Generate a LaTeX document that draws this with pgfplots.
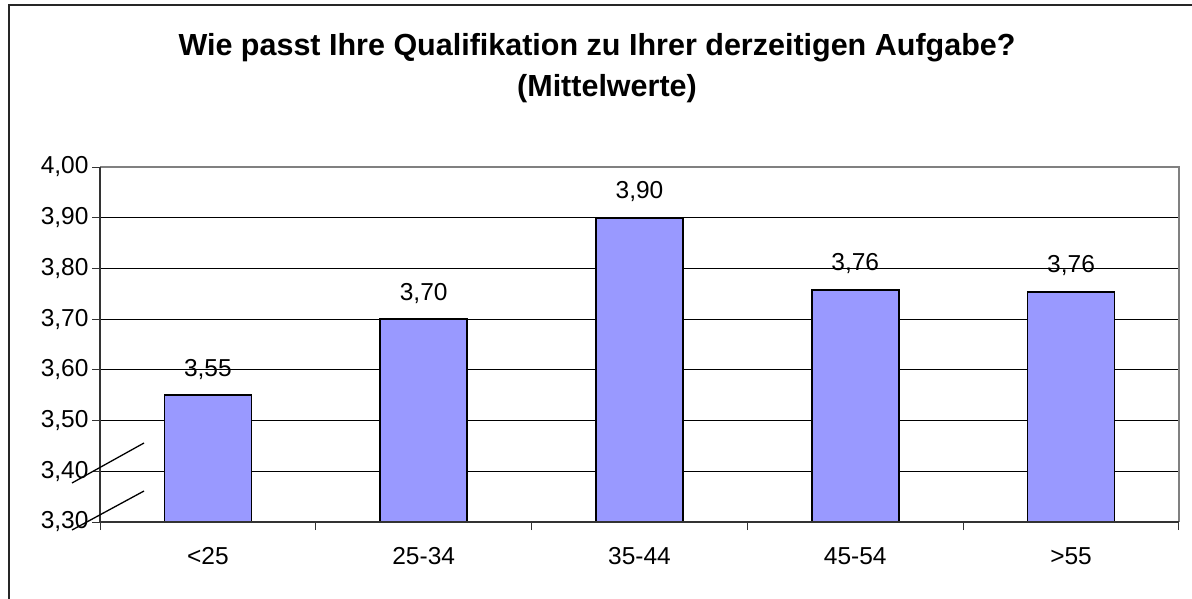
\documentclass[border=0pt]{standalone}
\usepackage{pgfplots}
\pgfplotsset{compat=1.18}
\usepackage{fontspec}
\setmainfont{Liberation Sans}
\definecolor{barblue}{HTML}{9999FF}
\begin{document}
\begin{tikzpicture}[x=1pt,y=1pt]
\useasboundingbox (0,0) rectangle (1192,598);
\draw[line width=2pt, black!85] (9,-5) -- (9,593) -- (1200,593);
\node[anchor=base, font=\bfseries\fontsize{30.5}{36}\selectfont, inner sep=0pt] at (597,542) {Wie passt Ihre Qualifikation zu Ihrer derzeitigen Aufgabe?};
\node[anchor=base, font=\bfseries\fontsize{30.5}{36}\selectfont, inner sep=0pt] at (607,501) {(Mittelwerte)};
\begin{axis}[
  at={(100pt,76pt)}, anchor=south west,
  scale only axis, width=1079pt, height=355pt,
  xmin=-0.5, xmax=4.5, ymin=3.3, ymax=4.0,
  clip mode=individual,
  axis line style={draw=none},
  xtick pos=bottom, ytick pos=left,
  /pgf/number format/assume math mode=true,
  ytick={3.3,3.4,3.5,3.6,3.7,3.8,3.9,4.0},
  yticklabel style={font=\fontsize{24.5}{28}\selectfont, /pgf/number format/.cd, fixed, fixed zerofill, precision=2, use comma},
  xtick={0,1,2,3,4},
  xticklabels={<25,25-34,35-44,45-54,>55},
  xticklabel style={font=\fontsize{24.5}{28}\selectfont, yshift=-14pt},
  xtick style={draw=none},
  extra x ticks={-0.5,0.5,1.5,2.5,3.5,4.5},
  extra x tick labels={},
  extra x tick style={grid=none, every x tick/.append style={draw=black!80, line width=1pt}},
  ytick style={draw=black!80, line width=1pt},
  tick align=outside, major tick length=8pt,
  ymajorgrids, major grid style={black, line width=1pt},
  nodes near coords, point meta=explicit symbolic,
  every node near coord/.append style={anchor=base, yshift=19pt, font=\fontsize{24.5}{28}\selectfont, text=black},
]
\addplot[ybar, bar width=87pt, fill=barblue, draw=black, line width=1.6pt]
  coordinates {(0,3.55) [3,55] (1,3.70) [3,70] (2,3.90) [3,90] (3,3.758) [3,76] (4,3.754) [3,76]};
\draw[gray, line width=1.2pt] (rel axis cs:0,1) -- (rel axis cs:1,1) -- (rel axis cs:1,0);
\draw[black!80, line width=1.3pt] (rel axis cs:0,1) -- (rel axis cs:0,0) -- (rel axis cs:1,0);
\end{axis}
\draw[line width=1.3pt] (72,115) -- (144,155);
\draw[line width=1.3pt] (72,68) -- (144,107);
\end{tikzpicture}
\end{document}
